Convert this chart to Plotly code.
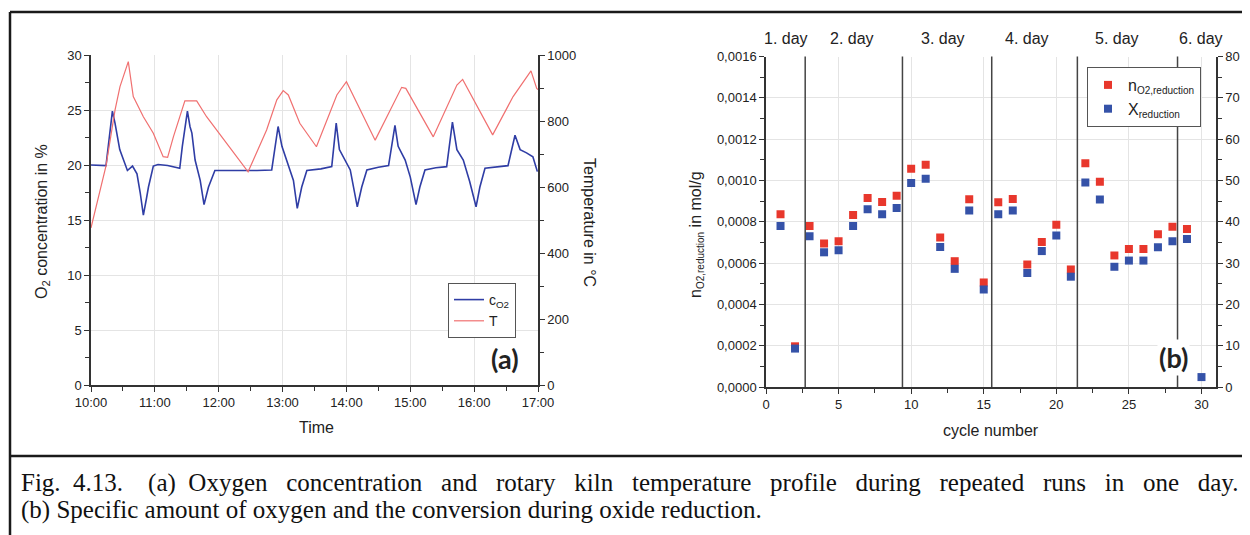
# coding: utf-8
"""
Fig. 4.13 - oxygen concentration / kiln temperature (a) and
specific oxygen amount / conversion per cycle (b).
"""

import plotly.graph_objects as go

# ---- panel (a): time profile of one day --------------------------------
HOUR_TICKS = [10, 11, 12, 13, 14, 15, 16, 17]
TIME_LABELS = ["10:00", "11:00", "12:00", "13:00", "14:00", "15:00", "16:00", "17:00"]

O2_TIME = [
    10.00, 10.10, 10.235, 10.335, 10.376, 10.45, 10.57, 10.65, 10.72, 10.77,
    10.82, 10.87, 10.90, 10.976, 11.05, 11.20, 11.39, 11.43, 11.51, 11.55,
    11.58, 11.63, 11.71, 11.77, 11.84, 11.94, 12.20, 12.45, 12.60, 12.83,
    12.93, 12.99, 13.06, 13.17, 13.23, 13.30, 13.38, 13.60, 13.77, 13.84,
    13.89, 13.95, 14.06, 14.17, 14.24, 14.32, 14.50, 14.66, 14.76, 14.81,
    14.92, 15.00, 15.09, 15.15, 15.23, 15.40, 15.57, 15.66, 15.73, 15.83,
    15.93, 16.03, 16.09, 16.17, 16.35, 16.53, 16.64, 16.72, 16.82, 16.92,
    16.99,
]
O2_CONC = [
    20.0, 20.0, 19.95, 24.9, 23.8, 21.4, 19.5, 19.9, 19.2, 17.5,
    15.45, 17.0, 18.0, 19.9, 20.05, 19.95, 19.7, 21.7, 24.9, 23.5,
    22.9, 20.45, 18.6, 16.4, 18.0, 19.5, 19.5, 19.45, 19.5, 19.55,
    23.5, 21.7, 20.45, 18.6, 16.05, 18.0, 19.5, 19.65, 19.85, 23.8,
    21.4, 20.75, 19.55, 16.2, 18.0, 19.55, 19.8, 19.94, 23.6, 21.7,
    20.45, 18.9, 16.4, 18.0, 19.55, 19.75, 19.85, 23.9, 21.4, 20.45,
    18.5, 16.2, 18.0, 19.7, 19.85, 19.94, 22.7, 21.4, 21.1, 20.75,
    19.4,
]

T_TIME = [
    10.00, 10.235, 10.376, 10.454, 10.584, 10.662, 10.82, 10.976, 11.13, 11.20,
    11.29, 11.47, 11.655, 11.81, 12.46, 12.75, 12.91, 13.01, 13.09, 13.27,
    13.53, 13.85, 14.00, 14.45, 14.865, 14.93, 15.36, 15.73, 15.82, 16.29,
    16.61, 16.89, 16.98, 17.00,
]
T_KILN = [
    476, 664, 833, 904, 980, 874, 813, 763, 692, 690,
    752, 861, 861, 813, 646, 773, 864, 892, 879, 793,
    722, 879, 919, 742, 902, 899, 752, 909, 926, 758,
    874, 952, 899, 895,
]

# ---- panel (b): per cycle ---------------------------------------------
CYCLES = list(range(1, 31))
N_O2 = [
    0.000836, 0.000197, 0.000779, 0.000695, 0.000705, 0.000833, 0.000915, 0.000896, 0.000926, 0.001056,
    0.001076, 0.000724, 0.000609, 0.000909, 0.000506, 0.000894, 0.000910, 0.000593, 0.000702, 0.000785,
    0.000569, 0.001083, 0.000994, 0.000637, 0.000668, 0.000668, 0.000739, 0.000776, 0.000765, None,
]
X_RED = [
    39.0, 9.3, 36.5, 32.6, 33.1, 39.0, 43.0, 41.8, 43.3, 49.4,
    50.4, 33.9, 28.6, 42.7, 23.6, 41.8, 42.7, 27.6, 32.9, 36.7,
    26.7, 49.5, 45.4, 29.1, 30.6, 30.6, 33.8, 35.3, 35.8, 2.4,
]
DAY_BOUNDS = [2.7, 9.4, 15.55, 21.45, 28.35]
DAY_LABELS = ["1. day", "2. day", "3. day", "4. day", "5. day", "6. day"]
DAY_LABEL_POS = [1.4, 5.9, 12.2, 18.0, 24.2, 30.0]

W, H = 1250, 535
OFF = 8  # page margin of the html body, positions below are in screen pixels
INK = '#222222'
AXIS = '#333333'
GRID = '#e4e4e4'
SANS = 'Arial, Liberation Sans, sans-serif'
SERIF = 'Liberation Serif, Times New Roman, serif'
SUB = '<sub><span style="font-size:10px">%s</span></sub>'


def px(x):
    return (x - OFF) / W


def py(y):
    return 1 - (y - OFF) / H


fig = go.Figure()

fig.add_trace(go.Scatter(
    x=O2_TIME, y=O2_CONC, mode='lines', name='c<sub>O2</sub>',
    line=dict(color='#2f3da5', width=1.6), xaxis='x', yaxis='y', legend='legend'))
fig.add_trace(go.Scatter(
    x=T_TIME, y=T_KILN, mode='lines', name='T',
    line=dict(color='#f07070', width=1.2), xaxis='x', yaxis='y2', legend='legend'))

fig.add_trace(go.Scatter(
    x=CYCLES, y=N_O2, mode='markers', name='n' + SUB % 'O2,reduction',
    marker=dict(symbol='square', size=8, color='#e8372c'),
    xaxis='x3', yaxis='y3', legend='legend2'))
fig.add_trace(go.Scatter(
    x=CYCLES, y=X_RED, mode='markers', name='X' + SUB % 'reduction',
    marker=dict(symbol='square', size=8, color='#3552a8'),
    xaxis='x3', yaxis='y4', legend='legend2'))

tickfont = dict(family=SANS, size=13, color=INK)
common = dict(showline=True, linecolor=AXIS, linewidth=1.5, zeroline=False, automargin=False,
              tickcolor=AXIS, tickwidth=1.2, tickfont=tickfont)

dom_a = [px(91), px(538)]
dom_a_y = [py(385), py(55)]
dom_b = [px(766), px(1216)]
dom_b_y = [py(387), py(56.5)]

fig.update_layout(
    template='none',
    width=W, height=H,
    margin=dict(l=0, r=0, t=0, b=0, pad=0),
    paper_bgcolor='white', plot_bgcolor='white',
    separators=',.',
    showlegend=True,
    xaxis=dict(domain=dom_a, anchor='y', range=[10, 17], tickvals=HOUR_TICKS, ticktext=TIME_LABELS,
               ticks='outside', ticklen=5, showgrid=True, gridcolor=GRID,
               minor=dict(dtick=0.5, ticks='outside', ticklen=4, showgrid=False), **common),
    xaxis2=dict(overlaying='x', side='top', anchor='y', range=[10, 17], dtick=1,
                ticks='inside', ticklen=5, showticklabels=False, showgrid=False,
                minor=dict(dtick=0.5, ticks='inside', ticklen=4), **common),
    yaxis=dict(domain=dom_a_y, anchor='x', range=[0, 30], dtick=5, ticks='outside', ticklen=5,
               showgrid=True, gridcolor=GRID,
               minor=dict(dtick=2.5, ticks='outside', ticklen=4, showgrid=False), **common),
    yaxis2=dict(overlaying='y', side='right', anchor='x', range=[0, 1000], dtick=200,
                ticks='outside', ticklen=5, showgrid=False,
                minor=dict(dtick=100, ticks='outside', ticklen=4), **common),
    xaxis3=dict(domain=dom_b, anchor='y3', range=[0, 31], dtick=5, ticks='outside', ticklen=5,
                showgrid=True, gridcolor=GRID,
                minor=dict(dtick=2.5, ticks='outside', ticklen=4, showgrid=False), **common),
    xaxis4=dict(overlaying='x3', side='top', anchor='y3', range=[0, 31], dtick=5,
                ticks='inside', ticklen=5, showticklabels=False, showgrid=False,
                minor=dict(dtick=2.5, ticks='inside', ticklen=4), **common),
    yaxis3=dict(domain=dom_b_y, anchor='x3', range=[0, 0.0016], dtick=0.0002, tickformat='.4f',
                ticks='outside', ticklen=5, showgrid=True, gridcolor=GRID,
                minor=dict(dtick=0.0001, ticks='outside', ticklen=4, showgrid=False), **common),
    yaxis4=dict(overlaying='y3', side='right', anchor='x3', range=[0, 80], dtick=10,
                ticks='outside', ticklen=5, showgrid=False,
                minor=dict(dtick=5, ticks='outside', ticklen=4), **common),
    legend=dict(x=px(448), y=py(283), xanchor='left', yanchor='top',
                bgcolor='white', bordercolor='#555555', borderwidth=1,
                font=dict(family=SANS, size=14, color=INK), tracegroupgap=0),
    legend2=dict(x=px(1087), y=py(67), xanchor='left', yanchor='top',
                 bgcolor='white', bordercolor='#555555', borderwidth=1,
                 font=dict(family=SANS, size=16, color=INK), tracegroupgap=0),
)

# day separators in panel (b)
for xb in DAY_BOUNDS:
    fig.add_shape(type='line', xref='x3', yref='y3 domain', x0=xb, x1=xb, y0=0, y1=1,
                  line=dict(color='#444444', width=1.5), layer='above')

# outer frame of the figure and caption box
frame = dict(color='#1a1a1a', width=2.5)
fig.add_shape(type='line', xref='paper', yref='paper', x0=px(10), x1=1, y0=py(12), y1=py(12), line=frame)
fig.add_shape(type='line', xref='paper', yref='paper', x0=px(10), x1=px(10), y0=0, y1=py(12), line=frame)
fig.add_shape(type='line', xref='paper', yref='paper', x0=px(10), x1=1, y0=py(456), y1=py(456), line=frame)

ann = []
for label, pos in zip(DAY_LABELS, DAY_LABEL_POS):
    ann.append(dict(x=pos, xref='x3', y=py(38), text=label,
                    font=dict(family=SANS, size=16, color=INK)))

title_font = dict(family=SANS, size=16, color=INK)
NB = '\u00a0'
gap = NB * 3
line1 = gap.join(['Fig.' + NB * 2 + '4.13.' + NB * 4 + '(a)' + NB * 2 + 'Oxygen', 'concentration', 'and',
                  'rotary', 'kiln', 'temperature', 'profile', 'during', 'repeated', 'runs', 'in', 'one',
                  'day.'])
ann += [
    dict(x=px(42), y=py(222), text='O<sub>2</sub> concentration in %', textangle=-90, font=title_font),
    dict(x=px(590), y=py(222), text='Temperature in °C', textangle=90, font=title_font),
    dict(x=px(316), y=py(427), text='Time', font=title_font),
    dict(x=px(696), y=py(235), text='n' + SUB % 'O2,reduction' + ' in mol/g',
         textangle=-90, font=title_font),
    dict(x=px(991), y=py(430), text='cycle number', font=title_font),
    dict(x=px(1253), y=py(214), text='X' + SUB % 'reduction' + ' in %',
         textangle=90, font=title_font),
    dict(x=px(505), y=py(358), text='<b>(a)</b>', font=dict(family='Lato, Open Sans', size=27, color=INK)),
    dict(x=px(1173), y=py(357), text='<b>(b)</b>', bgcolor='white',
         font=dict(family='Lato, Open Sans', size=27, color=INK)),
    dict(x=px(19), y=py(483), xanchor='left', text=line1,
         font=dict(family=SERIF, size=25, color='#111111')),
    dict(x=px(19), y=py(510), xanchor='left',
         text='(b) Specific amount of oxygen and the conversion during oxide reduction.',
         font=dict(family=SERIF, size=25, color='#111111')),
]
for a in ann:
    a.setdefault('xref', 'paper')
    a.setdefault('yref', 'paper')
    a.setdefault('xanchor', 'center')
    a.setdefault('yanchor', 'middle')
    a.setdefault('showarrow', False)
fig.update_layout(annotations=ann)

fig.write_html("out.html")
